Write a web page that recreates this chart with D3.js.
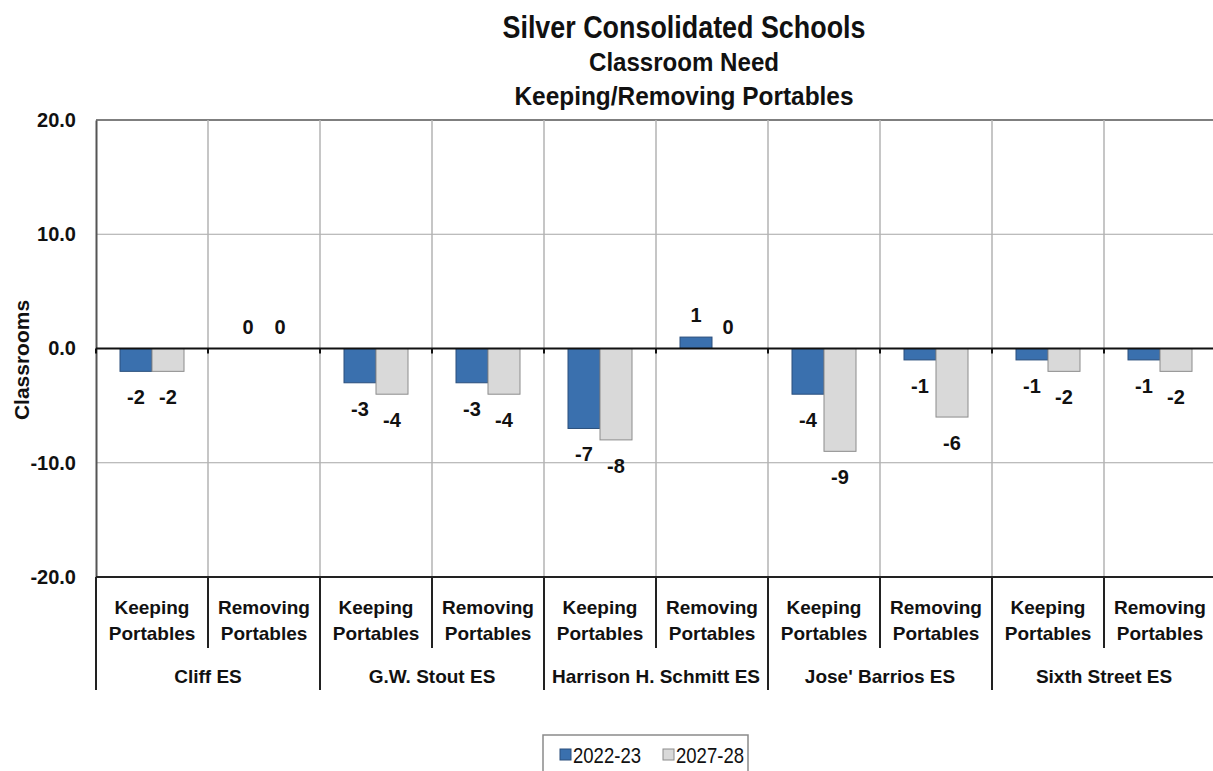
<!DOCTYPE html>
<html>
<head>
<meta charset="utf-8">
<script src="https://cdn.jsdelivr.net/npm/d3@7"></script>
<style>
  html, body { margin: 0; padding: 0; background: #fff; }
  svg { display: block; }
  text { font-family: "Liberation Sans Narrow", "Arial Narrow", "Liberation Sans", Arial, sans-serif; fill: #111; }
</style>
</head>
<body>
<svg id="chart" width="1213" height="771"></svg>
<script>
// Schools and the two scenarios shown for each
const schools = ["Cliff ES", "G.W. Stout ES", "Harrison H. Schmitt ES", "Jose' Barrios ES", "Sixth Street ES"];
const scenarios = ["Keeping Portables", "Removing Portables"];
const seriesNames = ["2022-23", "2027-28"];

// Classroom need, one value per school/scenario, in school order
const need2022 = [-2, 0, -3, -3, -7, 1, -4, -1, -1, -1];
const need2027 = [-2, 0, -4, -4, -8, 0, -9, -6, -2, -2];

const yTicks = [20, 10, 0, -10, -20];
const colors = ["#3a70ae", "#d9d9d9"];
const strokes = ["#2a4f7c", "#8c8c8c"];

const svg = d3.select("#chart");
const m = { left: 96, top: 120, right: 1216, bottom: 577 };

const cats = [];
schools.forEach(s => scenarios.forEach(sc => cats.push({ school: s, scenario: sc })));
cats.forEach((c, i) => { c.key = i; c.values = [need2022[i], need2027[i]]; });

const x = d3.scaleBand().domain(cats.map(c => c.key)).range([m.left, m.right]).paddingInner(0).paddingOuter(0);
const xInner = d3.scaleBand().domain([0, 1]).range([0, x.bandwidth()]).paddingOuter(0.75).paddingInner(0);
const y = d3.scaleLinear().domain([-20, 20]).range([m.bottom, m.top]);

// Horizontal gridlines
svg.append("g").selectAll("line").data(yTicks).join("line")
  .attr("x1", m.left).attr("x2", m.right)
  .attr("y1", d => y(d)).attr("y2", d => y(d))
  .attr("stroke", d => d === 20 ? "#555" : "#a6a6a6")
  .attr("stroke-width", d => d === 20 ? 1.5 : 1.2);

// Vertical category gridlines
svg.append("g").selectAll("line").data(cats.slice(1)).join("line")
  .attr("x1", d => x(d.key)).attr("x2", d => x(d.key))
  .attr("y1", m.top).attr("y2", m.bottom)
  .attr("stroke", "#b3b3b3").attr("stroke-width", 1.5);

// Y axis (plain hyphen for negatives)
const yAxis = d3.axisLeft(y).tickValues(yTicks).tickSize(0).tickPadding(20).tickFormat(d => d.toFixed(1));
const ya = svg.append("g").attr("transform", `translate(${m.left},0)`).call(yAxis);
ya.select(".domain").attr("stroke", "#555").attr("stroke-width", 2);
ya.selectAll("text").attr("font-size", 20).attr("font-weight", "bold")
  .style("font-family", '"Liberation Sans Narrow", "Arial Narrow", "Liberation Sans", Arial, sans-serif')
  .attr("fill", "#111");

// Bars
const groups = svg.append("g").selectAll("g").data(cats).join("g")
  .attr("transform", d => `translate(${x(d.key)},0)`);

groups.selectAll("rect").data(d => d.values.map((v, s) => ({ v, s }))).join("rect")
  .attr("x", d => xInner(d.s))
  .attr("width", xInner.bandwidth())
  .attr("y", d => y(Math.max(0, d.v)))
  .attr("height", d => Math.abs(y(d.v) - y(0)))
  .attr("fill", d => colors[d.s])
  .attr("stroke", d => d.v === 0 ? "none" : strokes[d.s])
  .attr("stroke-width", 1);

// Value labels
groups.selectAll("text.val").data(d => d.values.map((v, s) => ({ v, s }))).join("text")
  .attr("class", "val")
  .attr("x", d => xInner(d.s) + xInner.bandwidth() / 2)
  .attr("y", d => d.v < 0 ? y(d.v) + 33 : y(d.v) - 15)
  .attr("text-anchor", "middle")
  .attr("font-size", 20).attr("font-weight", "bold")
  .text(d => d.v);

// Zero line with small ticks
svg.append("line").attr("x1", m.left).attr("x2", m.right)
  .attr("y1", y(0)).attr("y2", y(0)).attr("stroke", "#111").attr("stroke-width", 2);
svg.append("g").selectAll("line").data(cats.concat([{ key: "end" }])).join("line")
  .attr("x1", d => d.key === "end" ? m.right : x(d.key))
  .attr("x2", d => d.key === "end" ? m.right : x(d.key))
  .attr("y1", y(0)).attr("y2", y(0) + 5)
  .attr("stroke", "#111").attr("stroke-width", 2);

// Category axis (two levels)
svg.append("line").attr("x1", m.left).attr("x2", m.right)
  .attr("y1", m.bottom).attr("y2", m.bottom).attr("stroke", "#222").attr("stroke-width", 2);

svg.append("g").selectAll("line").data(cats).join("line")
  .attr("x1", d => x(d.key)).attr("x2", d => x(d.key))
  .attr("y1", m.bottom)
  .attr("y2", d => d.key % 2 === 0 ? 690 : 648)
  .attr("stroke", "#222").attr("stroke-width", 2);

const catLbl = svg.append("g").selectAll("text").data(cats).join("text")
  .attr("text-anchor", "middle").attr("font-size", 19).attr("font-weight", "bold")
  .attr("x", d => x(d.key) + x.bandwidth() / 2);
catLbl.append("tspan").attr("x", d => x(d.key) + x.bandwidth() / 2).attr("y", 614).text(d => d.scenario.split(" ")[0]);
catLbl.append("tspan").attr("x", d => x(d.key) + x.bandwidth() / 2).attr("y", 640).text(d => d.scenario.split(" ")[1]);

svg.append("g").selectAll("text").data(schools).join("text")
  .attr("text-anchor", "middle").attr("font-size", 19).attr("font-weight", "bold")
  .attr("x", (d, i) => x(i * 2) + x.bandwidth())
  .attr("y", 683)
  .text(d => d);

// Y axis title
svg.append("text")
  .attr("transform", "translate(29,360) rotate(-90)")
  .attr("text-anchor", "middle").attr("font-size", 21).attr("font-weight", "bold")
  .text("Classrooms");

// Chart titles (condensed to the set widths)
const titles = [
  { t: "Silver Consolidated Schools", y: 38, s: 32, w: 363 },
  { t: "Classroom Need", y: 71, s: 25, w: 190 },
  { t: "Keeping/Removing Portables", y: 105, s: 25, w: 339 }
];
svg.append("g").selectAll("text").data(titles).join("text")
  .attr("x", 684).attr("y", d => d.y).attr("text-anchor", "middle")
  .attr("font-size", d => d.s).attr("font-weight", "bold")
  .attr("textLength", d => d.w).attr("lengthAdjust", "spacingAndGlyphs")
  .text(d => d.t);

// Legend
const lg = svg.append("g").attr("transform", "translate(543,735)");
lg.append("rect").attr("width", 205).attr("height", 45).attr("fill", "#fff")
  .attr("stroke", "#8a8a8a").attr("stroke-width", 1.5);
const items = lg.selectAll("g").data(seriesNames).join("g")
  .attr("transform", (d, i) => `translate(${17 + i * 103},0)`);
items.append("rect").attr("x", 0).attr("y", 14).attr("width", 11).attr("height", 11)
  .attr("fill", (d, i) => colors[i]).attr("stroke", (d, i) => strokes[i]);
items.append("text").attr("x", 13).attr("y", 28).attr("font-size", 22)
  .attr("textLength", 68).attr("lengthAdjust", "spacingAndGlyphs").text(d => d);
</script>
</body>
</html>
